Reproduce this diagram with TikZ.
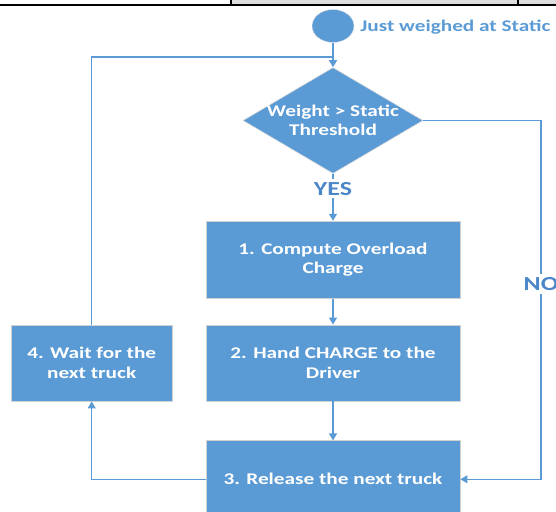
\documentclass[tikz,border=0pt]{standalone}
\usepackage{fontspec}
\usetikzlibrary{positioning,shapes.geometric,arrows.meta}

\newfontfamily\flowfont{Carlito}[FakeStretch=1.3]
\definecolor{boxblue}{HTML}{5B9BD5}
\definecolor{lineblue}{HTML}{5B9BD5}
\definecolor{textblue}{HTML}{4A86C8}

\begin{document}
\begin{tikzpicture}[
  x=1bp, y=-1bp,
  >={Triangle[length=7bp,width=8bp]},
  font=\flowfont\bfseries\fontsize{16.4}{19.5}\selectfont,
  stepbox/.style={
        rectangle,
        fill=boxblue,
        draw=black!18,
        line width=0.8bp,
        text=white,
        align=center,
        minimum width=254bp,
        minimum height=77bp,
        inner sep=0pt
  },
  decision/.style={
        diamond,
        fill=boxblue,
        draw=black!15,
        line width=0.6bp,
        minimum width=180bp,
        minimum height=106bp,
        inner sep=0pt
  },
  startdot/.style={
        ellipse,
        fill=boxblue,
        draw=black!10,
        minimum width=42bp,
        minimum height=33bp,
        inner sep=0pt
  },
  answer/.style={
        text=textblue,
        font=\flowfont\bfseries\fontsize{20}{24}\selectfont,
        inner sep=3bp
  },
  link/.style={
        draw=lineblue,
        line width=1.3bp
  }
]

    \useasboundingbox (0,0) rectangle (556,512);

    % table rule at the top of the page
    \fill[black!13] (231,0) rectangle (556,3.6);
    \draw[line width=2bp] (0,4.6) -- (556,4.6);
    \draw[line width=1.6bp] (231,0) -- (231,4.6);
    \draw[line width=1.6bp] (518,0) -- (518,4.6);

    \node[startdot] (start) at (333,26) {};
    \node[right=6bp of start, text=lineblue, inner sep=0pt, yshift=-1bp] (startlbl) {Just weighed at Static};

    \node[decision, below=24.5bp of start] (dec) {};
    \node[text=white, align=center, inner sep=0pt] (dectxt) at (dec.center) {Weight > Static\\Threshold};

    \node[answer, below=5bp of dec] (yes) {YES};
    \node[stepbox, below=47bp of dec] (b1) {1. Compute Overload\\Charge};
    \node[stepbox, below=26bp of b1, minimum height=76bp] (b2) {2. Hand CHARGE to the\\Driver};
    \node[stepbox, below=39bp of b2] (b3) {3. Release the next truck};
    \node[stepbox, left=33bp of b2, minimum width=161bp, minimum height=76bp] (b4) {4. Wait for the\\next truck};
    \node[answer] (no) at (541,284) {NO};

    \coordinate (join) at (start.south |- 0,57);

    \draw[link, ->] (start) -- (dec);
    \draw[link] (dec) -- (yes);
    \draw[link, ->] (yes) -- (b1);
    \draw[link, ->] (b1) -- (b2);
    \draw[link, ->] (b2) -- (b3);
    \draw[link, ->] (b3) -| (b4);
    \draw[link] (b4) |- (join);
    \draw[link] (dec.east) -| (no.north);
    \draw[link, ->] (no.south) |- (b3.east);
\end{tikzpicture}
\end{document}
